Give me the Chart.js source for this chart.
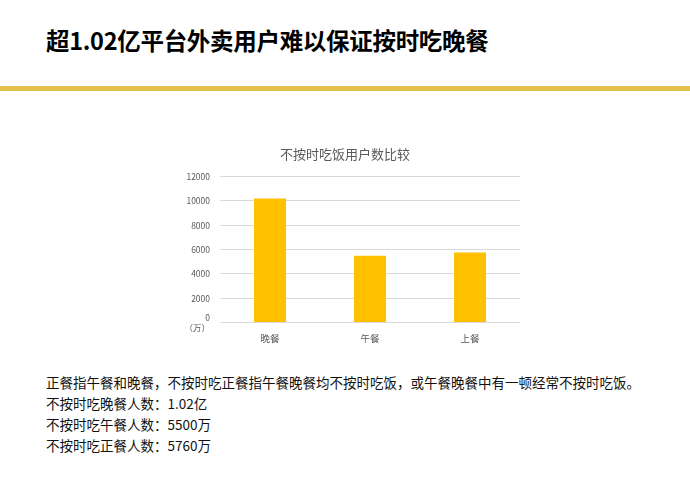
<!DOCTYPE html>
<html>
<head>
<meta charset="utf-8">
<script src="https://cdn.jsdelivr.net/npm/chart.js@4"></script>
<style>
  body { margin: 0; width: 690px; height: 483px; background: #fff; position: relative; overflow: hidden;
         font-family: "Noto Sans CJK SC", "Noto Sans", sans-serif; }
  #head { position: absolute; left: 46px; top: 23px; font-size: 23.5px; font-weight: bold; color: #000; letter-spacing: -0.3px; }
  #bar { position: absolute; left: 0; top: 86px; width: 690px; height: 5px; background: #E2C24A; }
  #box { position: absolute; left: 170px; top: 140px; width: 360px; height: 206px; }
  #notes { position: absolute; left: 46px; top: 372px; font-size: 13.5px; line-height: 21px; color: #111; }
</style>
</head>
<body>
<div id="head">超1.02亿平台外卖用户难以保证按时吃晚餐</div>
<div id="bar"></div>
<div id="box"><canvas id="mealChart"></canvas></div>
<div id="notes">
  <div>正餐指午餐和晚餐，不按时吃正餐指午餐晚餐均不按时吃饭，或午餐晚餐中有一顿经常不按时吃饭。</div>
  <div>不按时吃晚餐人数：1.02亿</div>
  <div>不按时吃午餐人数：5500万</div>
  <div>不按时吃正餐人数：5760万</div>
</div>
<script>
const meals = ["晚餐", "午餐", "上餐"];
const users = [10200, 5500, 5760];
const yTicks = [0, 2000, 4000, 6000, 8000, 10000, 12000];

const cjk = "'Noto Sans CJK SC', 'Noto Sans', sans-serif";
const gray = "#595959";

new Chart(document.getElementById("mealChart").getContext("2d"), {
    type: "bar",
    data: {
        labels: meals,
        datasets: [{
            data: users,
            backgroundColor: "#FFC000",
            barPercentage: 0.32,
            categoryPercentage: 1
        }]
    },
    options: {
        responsive: true,
        maintainAspectRatio: false,
        animation: false,
        layout: { padding: { right: 10, top: 6 } },
        plugins: {
            legend: { display: false },
            tooltip: { enabled: false },
            title: {
                display: true,
                text: "不按时吃饭用户数比较",
                color: gray,
                font: { family: cjk, size: 13, weight: "normal" },
                padding: { top: 0, bottom: 15 }
            }
        },
        scales: {
            x: {
                grid: { display: false },
                border: { display: false },
                ticks: { color: gray, font: { family: cjk, size: 9.5 }, padding: 2 }
            },
            y: {
                min: 0,
                max: 12000,
                afterBuildTicks: axis => { axis.ticks = yTicks.map(v => ({ value: v })); },
                afterFit: axis => { axis.width = 50; },
                grid: { color: "#D9D9D9", drawTicks: false },
                border: { display: false },
                ticks: {
                    color: gray,
                    font: { family: cjk, size: 8.5 },
                    padding: 10,
                    callback: v => v === 0 ? ["0", "（万）"] : String(v)
                }
            }
        }
    }
});
</script>
</body>
</html>
